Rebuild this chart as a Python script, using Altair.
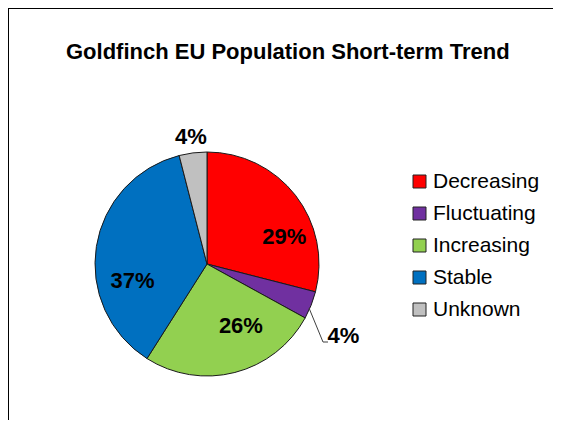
import altair as alt
import pandas as pd

categories = ["Decreasing", "Fluctuating", "Increasing", "Stable", "Unknown"]
values = [29, 4, 26, 37, 4]
labels = ["29%", "4%", "26%", "37%", "4%"]
colors = ["#FF0000", "#7030A0", "#92D050", "#0070C0", "#C0C0C0"]

df = pd.DataFrame({
    "category": categories,
    "value": values,
    "label": labels,
    "order": list(range(len(categories))),
})

W, H = 545, 412
CX, CY, R = 199, 256, 112

base = alt.Chart(df)

arc = base.mark_arc(radius=R, stroke="#1a1a1a", strokeWidth=1).encode(
    x=alt.value(CX),
    y=alt.value(CY),
    theta=alt.Theta("value:Q", stack=True, scale=alt.Scale(domain=[0, 100])),
    order=alt.Order("order:Q"),
    color=alt.Color(
        "category:N",
        scale=alt.Scale(domain=categories, range=colors),
        sort=categories,
        legend=alt.Legend(
            title=None,
            orient="none",
            legendX=401,
            legendY=163,
            symbolType="square",
            symbolSize=169,
            symbolStrokeColor="#222222",
            symbolStrokeWidth=1,
            labelFontSize=21,
            labelFont="Liberation Sans",
            labelColor="black",
            labelOffset=3,
            rowPadding=10,
            padding=0,
        ),
    ),
)

# per-label style: (radius, dx, dy)
label_style = {
    "Decreasing": (80, 14, 22),
    "Fluctuating": (128, 17.5, 25),
    "Increasing": (80, 14, -15.5),
    "Stable": (80, 4.5, 29.5),
    "Unknown": (128, 0, 0),
}

text_layers = []
for cat in categories:
    r, dx, dy = label_style[cat]
    t = (
        base.transform_stack(
            stack="value", groupby=[], as_=["v0", "v1"], sort=[alt.SortField("order")]
        )
        .transform_calculate(mid="(datum.v0 + datum.v1) / 2")
        .transform_filter(alt.datum.category == cat)
        .mark_text(
            radius=r, dx=dx, dy=dy, fontSize=22, fontWeight="bold",
            font="Liberation Sans", color="black", align="center", baseline="middle",
        )
        .encode(
            x=alt.value(CX),
            y=alt.value(CY),
            theta=alt.Theta("mid:Q", stack=None, scale=alt.Scale(domain=[0, 100])),
            text="label:N",
        )
    )
    text_layers.append(t)

leader1 = base.transform_filter(alt.datum.category == "Fluctuating").mark_rule(
    color="#404040", strokeWidth=1
).encode(x=alt.value(301), y=alt.value(300), x2=alt.value(315), y2=alt.value(334))
leader2 = base.transform_filter(alt.datum.category == "Fluctuating").mark_rule(
    color="#404040", strokeWidth=1
).encode(x=alt.value(315), y=alt.value(334), x2=alt.value(320), y2=alt.value(334))

border_top = base.transform_filter(alt.datum.category == "Decreasing").mark_rule(
    color="black", strokeWidth=2
).encode(x=alt.value(0), x2=alt.value(W), y=alt.value(0))
border_left = base.transform_filter(alt.datum.category == "Decreasing").mark_rule(
    color="black", strokeWidth=2
).encode(x=alt.value(0), y=alt.value(0), y2=alt.value(H))

chart = alt.layer(
    arc, *text_layers, leader1, leader2, border_top, border_left
).properties(
    width=W,
    height=H,
    padding=0,
    autosize=alt.AutoSizeParams(type="none"),
    title=alt.TitleParams(
        "Goldfinch EU Population Short-term Trend",
        fontSize=22,
        font="Liberation Sans",
        fontWeight="bold",
        color="black",
        anchor="start",
        offset=-57,
        dx=59,
    ),
).configure_view(stroke=None).configure(background="white")

chart.save("out.html", embed_options={"renderer": "svg", "actions": False})
